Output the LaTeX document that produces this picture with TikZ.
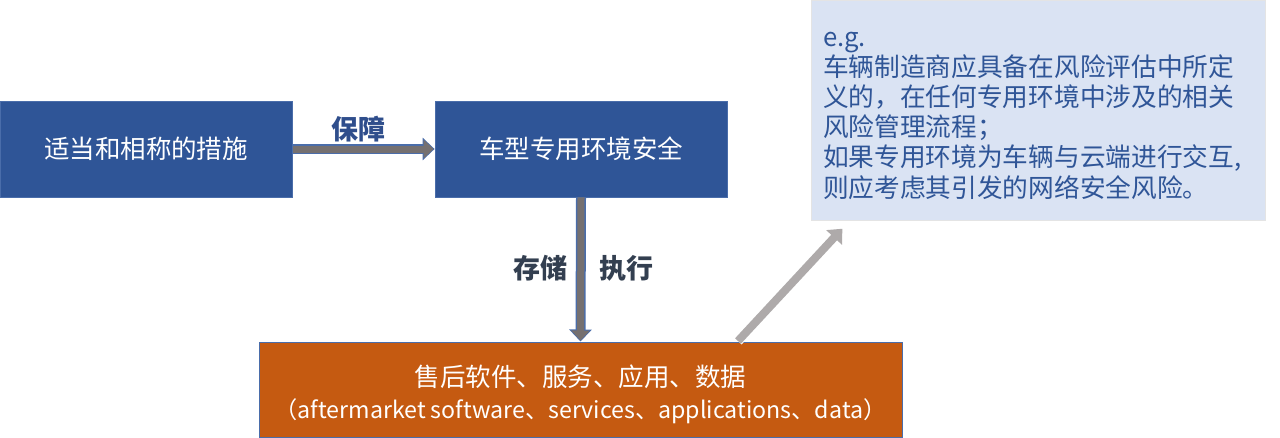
\documentclass[tikz,border=0pt]{standalone}
\usepackage{fontspec}
\setmainfont{Noto Sans CJK SC}
\usetikzlibrary{arrows.meta}
\definecolor{boxblue}{HTML}{2F5597}
\definecolor{boxedge}{HTML}{4A6DAA}
\definecolor{boxorange}{HTML}{C55A11}
\definecolor{notefill}{HTML}{DAE3F3}
\definecolor{noteedge}{HTML}{E4E4E4}
\definecolor{notetext}{HTML}{2F5597}
\definecolor{arrgray}{HTML}{757070}
\definecolor{lightarr}{HTML}{AEAAAA}
\definecolor{labelblue}{HTML}{2F4E8C}
\definecolor{labeldark}{HTML}{333F50}
\tikzset{
  bluebox/.style={draw=boxedge, line width=0.8pt, fill=boxblue, text=white,
    minimum width=292, minimum height=96, inner sep=0pt,
    font=\fontsize{25.5}{30}\selectfont},
  orangebox/.style={draw=boxedge, line width=1pt, fill=boxorange, text=white,
    minimum width=643, minimum height=95, inner sep=0pt,
    font=\fontsize{25.5}{32}\selectfont},
  notebox/.style={draw=noteedge, line width=1pt, fill=notefill, text=notetext,
    minimum width=450, minimum height=220, inner xsep=12pt, inner ysep=0pt,
    font=\fontsize{25.7}{30.2}\selectfont},
  arrlabel/.style={font=\fontsize{27}{30}\selectfont\bfseries},
  outerarr/.style={draw=boxedge, line width=10pt, -{Triangle[length=12pt,width=22pt]}},
  innerarr/.style={draw=arrgray, line width=7pt, -{Triangle[length=10pt,width=18pt]}},
}
\begin{document}
\begin{tikzpicture}[x=1pt,y=-1pt]
\useasboundingbox (0,0) rectangle (1280,437);
\node[bluebox] (a) at (146,149) {适当和相称的措施};
\node[bluebox] (b) at (581,149) {车型专用环境安全};
\node[orangebox] (c) at (580.5,389.5) {\parbox{640pt}{\centering\vspace*{9pt}售后软件、服务、应用、数据\par{\fontsize{23.2}{32}\selectfont（aftermarket software、services、applications、data）\par}}};
\node[notebox] (n) at (1038,110) {\parbox{430pt}{\raggedright\vspace*{11pt}e.g.\\车辆制造商应具备在风险评估中所定\\义的，在任何专用环境中涉及的相关\\风险管理流程；\\如果专用环境为车辆与云端进行交互,\\则应考虑其引发的网络安全风险。}};
% horizontal arrow
\draw[outerarr, shorten <=0.5pt] (a.east) -- (b.west);
\draw[innerarr, shorten <=1pt, shorten >=1pt] (a.east) -- (b.west);
% vertical arrow
\draw[outerarr] (b.south) -- (c.north);
\draw[innerarr, shorten >=1pt] (b.south) -- (c.north);
% diagonal arrow
\coordinate (d1) at (738,341);
\coordinate (d2) at (843,228);
\draw[draw=white, line width=10pt, -{Triangle[length=14pt,width=24pt]}] (d1) -- (d2);
\draw[draw=lightarr, line width=8pt, -{Triangle[length=12pt,width=21pt]}, shorten >=1pt] (d1) -- (d2);
% labels
\node[arrlabel, text=labelblue] (l1) at (358,129) {保障};
\node[arrlabel, text=labeldark] (l2) at (540,268) {存储};
\node[arrlabel, text=labeldark] (l3) at (626,268) {执行};
\end{tikzpicture}
\end{document}
